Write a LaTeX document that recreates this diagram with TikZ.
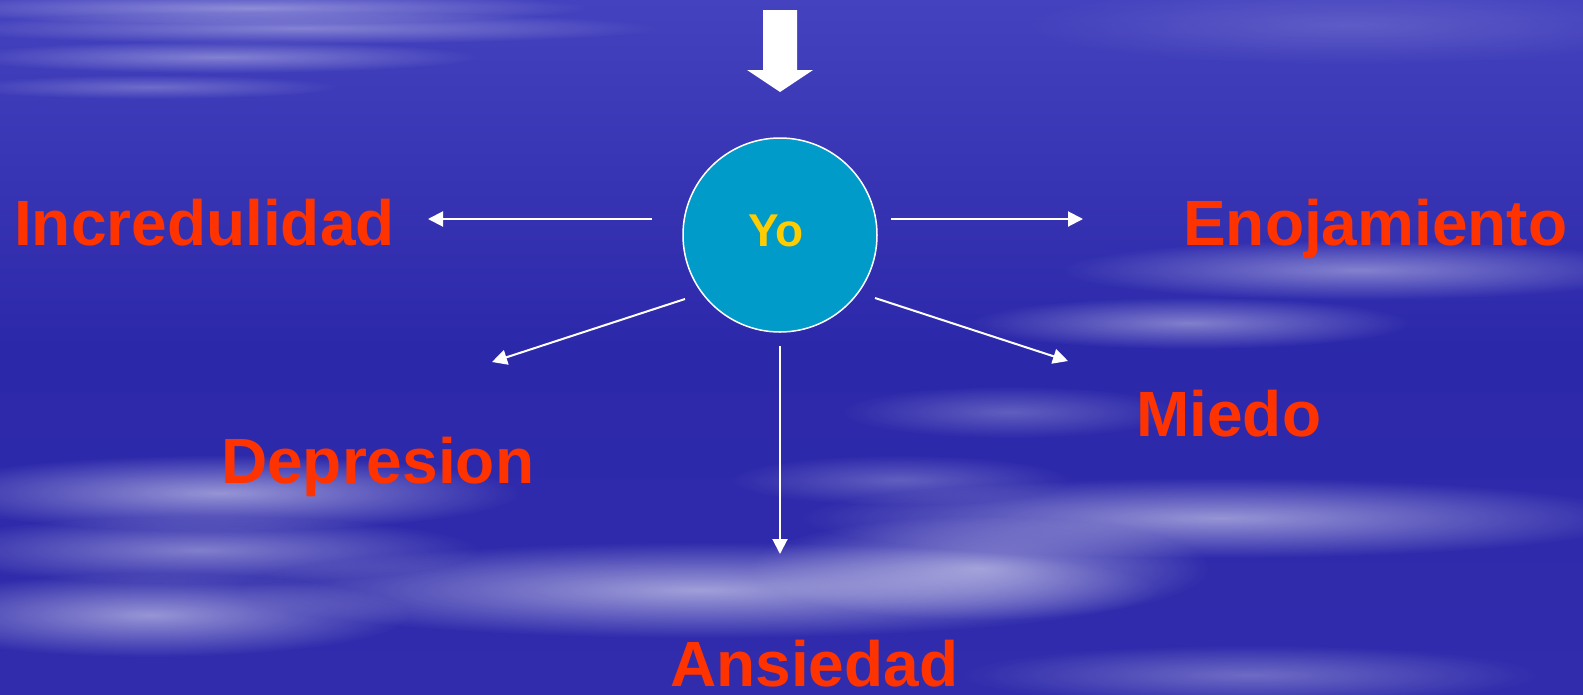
\documentclass[tikz,border=0pt]{standalone}
\usepackage{fontspec}
\setmainfont{Liberation Sans}
\usetikzlibrary{arrows.meta,fadings}
\definecolor{bgtop}{RGB}{68,66,190}
\definecolor{bgmid}{RGB}{44,40,170}
\definecolor{bgbot}{RGB}{48,44,172}
\definecolor{yofill}{RGB}{0,155,201}
\definecolor{yotext}{RGB}{255,204,0}
\definecolor{labred}{RGB}{255,51,0}
\tikzfading[name=softcloud, inner color=transparent!0, outer color=transparent!100]
\newcommand\mycloud[5]{%
  \fill[white,opacity=#5,path fading=softcloud] (#1,#2) ellipse [x radius=#3pt, y radius=#4pt];}
\tikzset{
  conn/.style={white,line width=2pt,-{Triangle[width=15pt,length=15pt]}},
  lab/.style={text=labred,font=\fontsize{64}{64}\selectfont\bfseries,inner sep=0pt,anchor=base west},
}
\begin{document}
\begin{tikzpicture}[x=1pt,y=-1pt]
\useasboundingbox (0,0) rectangle (1583,694);
% background
\shade[top color=bgtop,bottom color=bgbot,middle color=bgmid] (0,0) rectangle (1583,694);
% clouds top-left
\mycloud{250}{8}{340}{16}{0.4}
\mycloud{300}{28}{360}{16}{0.35}
\mycloud{220}{57}{260}{16}{0.35}
\mycloud{150}{87}{190}{12}{0.25}
\mycloud{1350}{25}{330}{40}{0.15}
% clouds right middle
\mycloud{1360}{270}{300}{30}{0.4}
\mycloud{1190}{323}{220}{26}{0.4}
\mycloud{1010}{412}{170}{26}{0.25}
% clouds bottom
\mycloud{220}{493}{300}{38}{0.5}
\mycloud{200}{550}{280}{34}{0.4}
\mycloud{1220}{518}{420}{40}{0.5}
\mycloud{700}{590}{460}{48}{0.55}
\mycloud{980}{568}{230}{52}{0.5}
\mycloud{150}{615}{260}{42}{0.5}
\mycloud{1250}{675}{290}{30}{0.3}
\mycloud{900}{480}{170}{25}{0.25}
% top arrow
\fill[white] (763,10) -- (797,10) -- (797,70) -- (813,70) -- (780,92) -- (747,70) -- (763,70) -- cycle;
% central node
\node[circle,minimum size=194pt,inner sep=0pt,fill=yofill,draw=white,line width=1.5pt] (yo) at (780,235) {};
\node[text=yotext,font=\fontsize{46}{46}\selectfont\bfseries,inner sep=0pt] (yotxt) at (776,231) {Yo};
% labels
\node[lab] (incr) at (14,245) {Incredulidad};
\node[lab] (enoj) at (1183,245) {Enojamiento};
\node[lab] (mied) at (1136,436) {Miedo};
\node[lab] (depr) at (221,483) {Depresion};
\node[lab] (ansi) at (670,686) {Ansiedad};
% connector endpoints
\coordinate (s1) at (652,219); \coordinate (e1) at (428,219);
\coordinate (s2) at (891,219); \coordinate (e2) at (1083,219);
\coordinate (s3) at (685,299); \coordinate (e3) at (492,362);
\coordinate (s4) at (875,298); \coordinate (e4) at (1068,361);
\coordinate (s5) at (780,346); \coordinate (e5) at (780,554);
\draw[conn] (s1) -- (e1);
\draw[conn] (s2) -- (e2);
\draw[conn] (s3) -- (e3);
\draw[conn] (s4) -- (e4);
\draw[conn] (s5) -- (e5);
\end{tikzpicture}
\end{document}
